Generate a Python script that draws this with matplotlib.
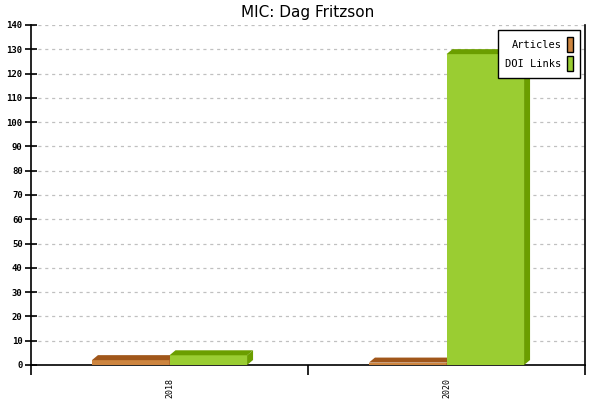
import matplotlib
matplotlib.use("Agg")
import matplotlib.pyplot as plt
from matplotlib.patches import Polygon, Patch

# data
years = ["2018", "2020"]
articles = [2, 1]
doi_links = [4, 128]

series_names = ["Articles", "DOI Links"]
front_colors = ["#cd853f", "#9acd32"]
dark_colors = ["#a0561a", "#6b9e00"]

W, H, DPI = 6, 4, 100
left, right, top, bottom = 31 / 600, 585 / 600, 1 - 25 / 400, 1 - 365 / 400

fig = plt.figure(figsize=(W, H), dpi=DPI)
fig.subplots_adjust(left=left, right=right, top=top, bottom=bottom)
ax = fig.add_subplot(111)

xmin, xmax, ymin, ymax = -0.5, 1.5, 0, 140
ax.set_xlim(xmin, xmax)
ax.set_ylim(ymin, ymax)

# size of the 3d depth, in pixels, turned into data units
ax_w_px = (right - left) * W * DPI
ax_h_px = (top - bottom) * H * DPI
dx = 6 * (xmax - xmin) / ax_w_px
dy = 5 * (ymax - ymin) / ax_h_px

bar_w = 0.28


def bar3d(x0, h, front, dark):
    """une barre avec une face du dessus et un cote plus sombres"""
    ax.bar(x0, h, width=bar_w, align="edge", color=front, linewidth=0, zorder=3)
    x1 = x0 + bar_w
    dessus = Polygon([(x0, h), (x0 + dx, h + dy), (x1 + dx, h + dy), (x1, h)],
                     closed=True, facecolor=dark, edgecolor="none", zorder=3)
    cote = Polygon([(x1, 0), (x1, h), (x1 + dx, h + dy), (x1 + dx, dy)],
                   closed=True, facecolor=dark, edgecolor="none", zorder=3)
    ax.add_patch(dessus)
    ax.add_patch(cote)


for i in range(len(years)):
    bar3d(i - bar_w, articles[i], front_colors[0], dark_colors[0])
    bar3d(i, doi_links[i], front_colors[1], dark_colors[1])

# axes
ax.spines["top"].set_visible(False)
for s in ["left", "bottom", "right"]:
    ax.spines[s].set_linewidth(1.2)
    ax.spines[s].set_color("black")

ax.set_yticks(range(0, 141, 10))
ax.tick_params(axis="y", direction="inout", length=8, width=1.2, pad=2)
for lab in ax.get_yticklabels():
    lab.set_fontfamily("DejaVu Sans Mono")
    lab.set_fontsize(6.5)
    lab.set_fontweight("bold")

ax.set_xticks(range(len(years)))
ax.set_xticklabels(years, rotation=90, fontsize=6, fontfamily="DejaVu Sans Mono")
ax.tick_params(axis="x", which="major", length=0, pad=9)
ax.set_xticks([-0.5, 0.5, 1.5], minor=True)
ax.tick_params(axis="x", which="minor", direction="out", length=7, width=1.2)

ax.yaxis.grid(True, linestyle=(0, (2.5, 3)), color="#c0c0c0", linewidth=0.9, zorder=0)
ax.set_axisbelow(True)

ax.set_title("MIC: Dag Fritzson", fontsize=11, pad=6)

handles = [Patch(facecolor=front_colors[k], edgecolor="black", linewidth=1)
           for k in range(len(series_names))]
leg = ax.legend(handles, series_names, loc="upper right", markerfirst=False,
                prop={"family": "DejaVu Sans Mono", "size": 7.5},
                handlelength=0.6, handleheight=1.8, handletextpad=0.5,
                borderaxespad=0.45, fancybox=False, framealpha=1,
                edgecolor="black", labelspacing=0.45, borderpad=0.7)
leg.get_frame().set_linewidth(1)
leg.set_zorder(5)

fig.savefig("out.png", dpi=DPI)
